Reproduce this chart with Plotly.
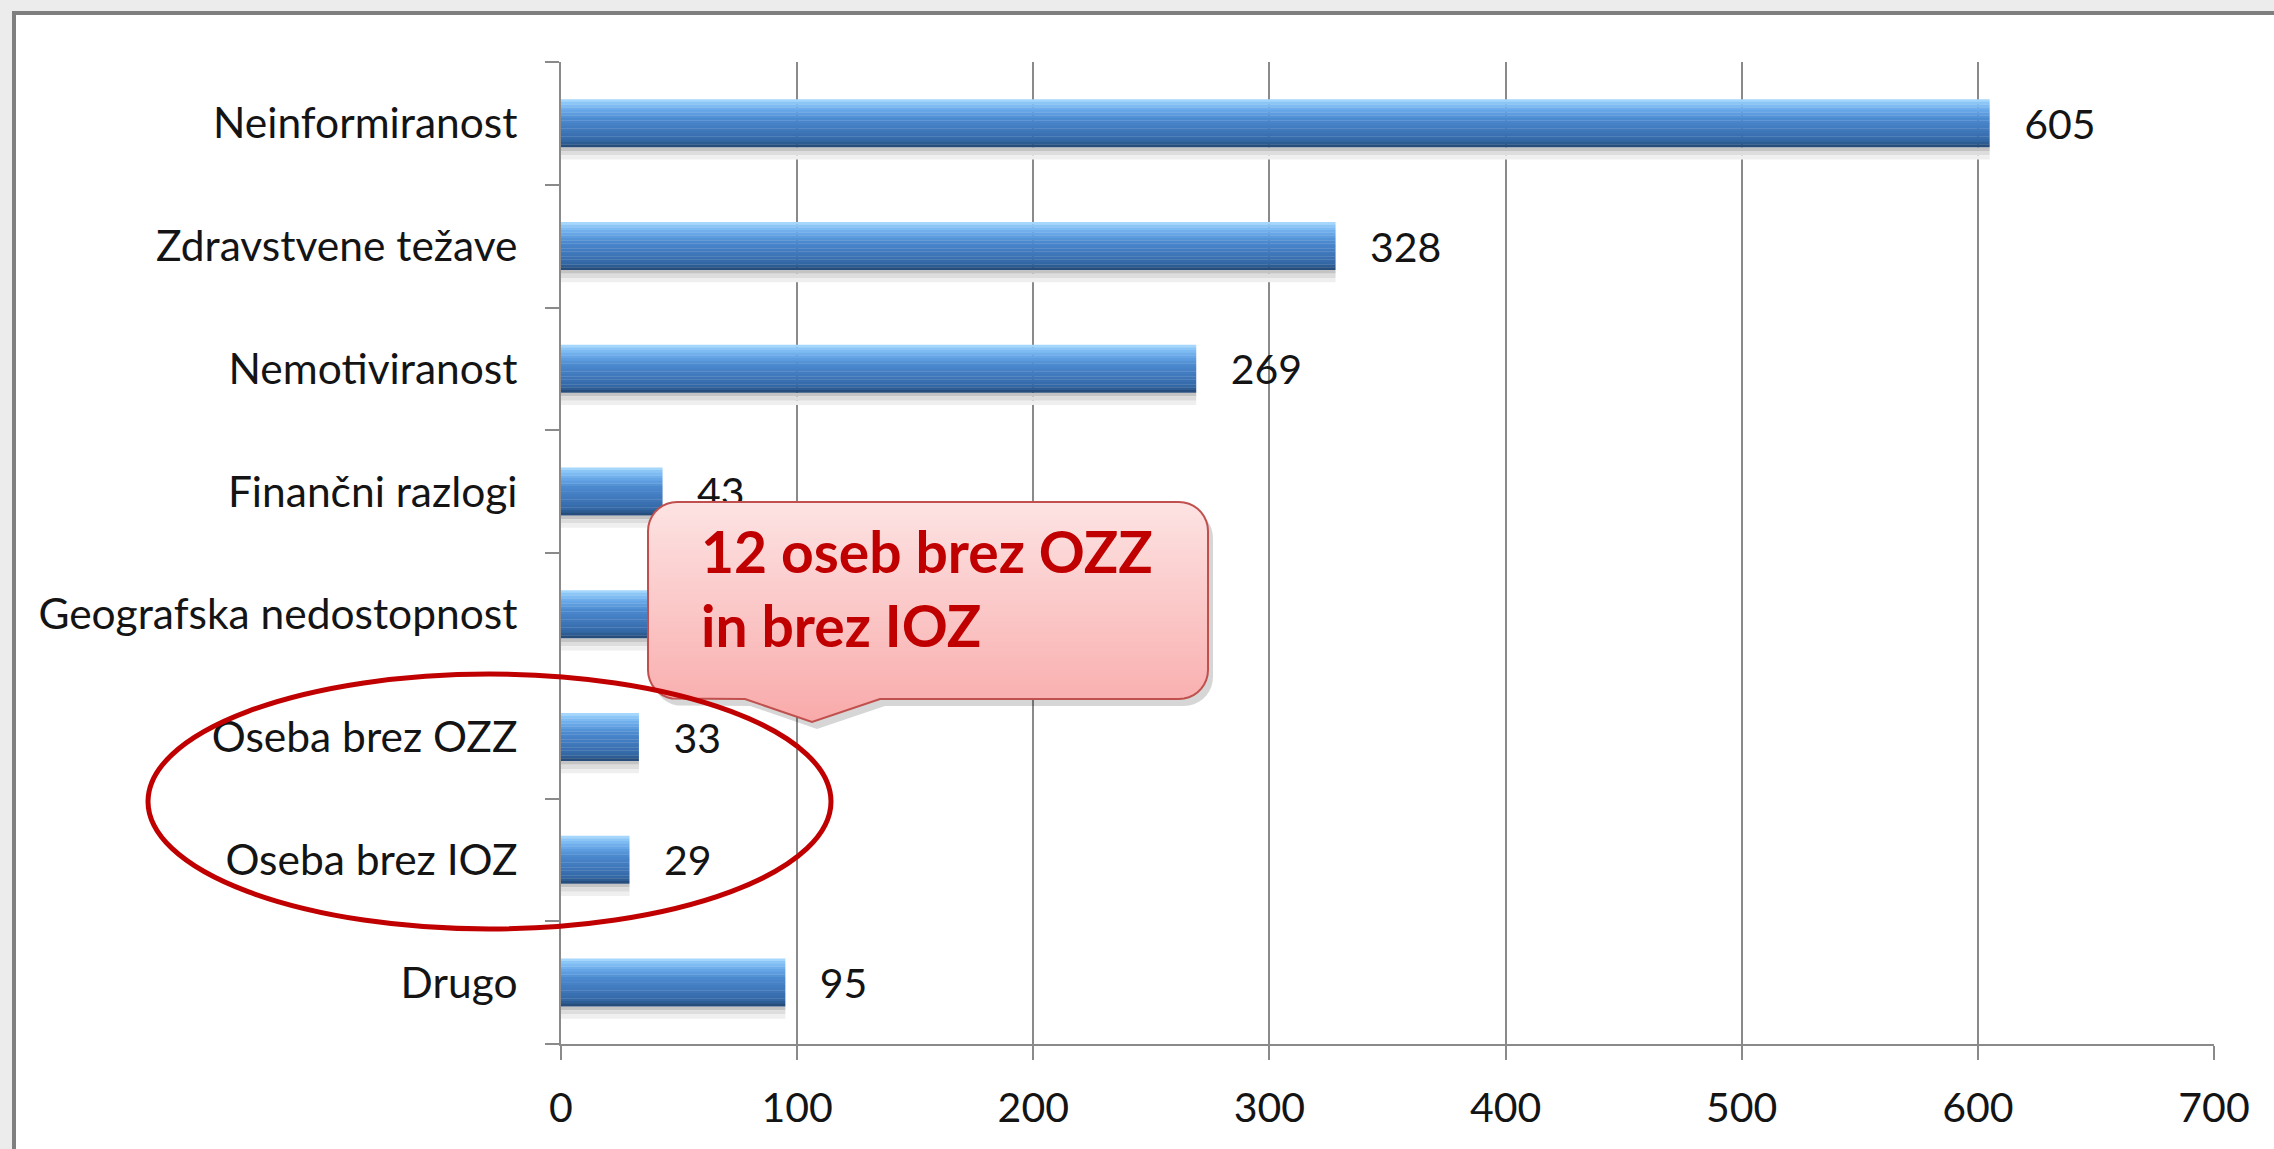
import numpy as np
import plotly.graph_objects as go

# ---------------- data ----------------
categories = ["Drugo", "Oseba brez IOZ", "Oseba brez OZZ", "Geografska nedostopnost",
              "Finančni razlogi", "Nemotiviranost", "Zdravstvene težave", "Neinformiranost"]
values = [95, 29, 33, 40, 43, 269, 328, 605]
# label of "Geografska nedostopnost" is hidden behind the callout in the reference
value_labels = ["95", "29", "33", "", "43", "269", "328", "605"]
x_ticks = [0, 100, 200, 300, 400, 500, 600, 700]
callout_lines = ["12 oseb brez OZZ", "in brez IOZ"]

# ---------------- layout geometry ----------------
W, H = 2274, 1149
ML, MR, MT, MB = 561, 60, 62, 105
PW, PH = W - ML - MR, H - MT - MB

FONT = "Lato, Carlito, Calibri, sans-serif"
TXT = "#141414"
GRID = "#8a8a8a"


def px_to_paper(px, py):
    return (px - ML) / PW, (H - MB - py) / PH


def lerp_color(stops, t):
    for (t0, c0), (t1, c1) in zip(stops[:-1], stops[1:]):
        if t0 <= t <= t1:
            f = 0 if t1 == t0 else (t - t0) / (t1 - t0)
            a = [int(c0[i:i + 2], 16) for i in (1, 3, 5)]
            b = [int(c1[i:i + 2], 16) for i in (1, 3, 5)]
            return "rgb(%d,%d,%d)" % tuple(round(a[k] + (b[k] - a[k]) * f) for k in range(3))
    return stops[-1][1]


fig = go.Figure()

# shadow under bars
bar_w = 0.39
for (off, wd, col) in [(0.00, 0.03, "#c4c4c4"), (0.03, 0.035, "#dddddd"), (0.065, 0.035, "#efefef")]:
    fig.add_trace(go.Bar(x=values, y=categories, orientation="h",
                         offset=-bar_w / 2 - off - wd, width=wd,
                         marker=dict(color=col, line=dict(width=0)),
                         hoverinfo="skip", showlegend=False))

# bar body as stacked gradient stripes (top -> bottom)
stops = [(0.0, "#b4defd"), (0.07, "#8fc9f8"), (0.22, "#6aaaea"), (0.42, "#4c89cf"),
         (0.68, "#3e76b9"), (0.88, "#3266a3"), (1.0, "#22466f")]
n = 18
for i in range(n):
    t = (i + 0.5) / n
    fig.add_trace(go.Bar(x=values, y=categories, orientation="h",
                         offset=bar_w / 2 - (i + 1) * bar_w / n, width=bar_w / n * 1.1,
                         marker=dict(color=lerp_color(stops, t), line=dict(width=0)),
                         hoverinfo="skip", showlegend=False))

# value labels (transparent full-size bar carrying the outside text)
fig.add_trace(go.Bar(x=values, y=categories, orientation="h",
                     offset=-bar_w / 2, width=bar_w,
                     marker=dict(color="rgba(0,0,0,0)", line=dict(width=0)),
                     text=[("\u00a0\u00a0\u00a0" + s) if s else "" for s in value_labels],
                     textposition="outside", constraintext="none", cliponaxis=False,
                     textfont=dict(family=FONT, size=41, color=TXT),
                     hoverinfo="skip", showlegend=False))

# ---------------- callout (overlay axes in paper units) ----------------
bx0, by1 = px_to_paper(648, 502)
bx1, by0 = px_to_paper(1208, 699)
rx, ry = 29 / PW, 29 / PH
tb0, _ = px_to_paper(745, 0)
tb1, _ = px_to_paper(880, 0)
tipx, tipy = px_to_paper(812, 722)


def arc(cx, cy, a0, a1, k=10):
    a = np.radians(np.linspace(a0, a1, k))
    return list(cx + rx * np.cos(a)), list(cy + ry * np.sin(a))


def callout_poly(dx=0.0, dy=0.0):
    xs, ys = [], []
    for (cx, cy, a0, a1) in [(bx1 - rx, by1 - ry, 90, 0), (bx1 - rx, by0 + ry, 0, -90)]:
        ax, ay = arc(cx, cy, a0, a1)
        xs += ax; ys += ay
    xs += [tb1, tipx, tb0]; ys += [by0, tipy, by0]
    for (cx, cy, a0, a1) in [(bx0 + rx, by0 + ry, -90, -180), (bx0 + rx, by1 - ry, 180, 90)]:
        ax, ay = arc(cx, cy, a0, a1)
        xs += ax; ys += ay
    xs.append(xs[0]); ys.append(ys[0])
    return [x + dx for x in xs], [y + dy for y in ys]


sx, sy = callout_poly(5 / PW, -7 / PH)
fig.add_trace(go.Scatter(x=sx, y=sy, xaxis="x2", yaxis="y2", mode="lines", fill="toself",
                         fillcolor="rgba(0,0,0,0.16)", line=dict(width=0),
                         hoverinfo="skip", showlegend=False))
cx_, cy_ = callout_poly()
fig.add_trace(go.Scatter(x=cx_, y=cy_, xaxis="x2", yaxis="y2", mode="lines", fill="toself",
                         fillgradient=dict(type="vertical",
                                           colorscale=[[0, "#f9aaaa"], [1, "#fde3e3"]]),
                         line=dict(width=2, color="#c0504d"),
                         hoverinfo="skip", showlegend=False))

tx, ty = px_to_paper(699, 588)
fig.add_annotation(x=tx, y=ty, xref="paper", yref="paper", xanchor="left", yanchor="middle",
                   align="left", showarrow=False,
                   text="<br>".join(callout_lines),
                   font=dict(family=FONT, size=57, color="#c00000", weight="bold"))

# ellipse
ex0, ey1 = px_to_paper(148, 674)
ex1, ey0 = px_to_paper(831, 929)
fig.add_shape(type="circle", xref="paper", yref="paper", x0=ex0, x1=ex1, y0=ey0, y1=ey1,
              line=dict(color="#c00000", width=5), layer="above")

# frame
fx0, fy1 = px_to_paper(14, 13)
fig.add_shape(type="rect", xref="paper", yref="paper", x0=fx0, x1=1.2, y0=-0.3, y1=fy1,
              fillcolor="white", line=dict(color="#7f7f7f", width=4), layer="below")

fig.update_layout(
    width=W, height=H,
    margin=dict(l=ML, r=MR, t=MT, b=MB, pad=0),
    paper_bgcolor="#ececec", plot_bgcolor="white",
    barmode="overlay", showlegend=False,
    font=dict(family=FONT, size=41, color=TXT),
    xaxis=dict(range=[0, 700], tickvals=x_ticks, ticktext=[str(v) for v in x_ticks],
               showgrid=True, gridcolor=GRID, gridwidth=2,
               showline=True, linecolor=GRID, linewidth=2,
               ticks="outside", ticklen=14, tickwidth=2, tickcolor=GRID,
               zeroline=False, ticklabelstandoff=13,
               tickfont=dict(family=FONT, size=41, color=TXT)),
    yaxis=dict(type="category", categoryorder="array", categoryarray=categories,
               range=[-0.5, 7.5], showgrid=False,
               showline=True, linecolor=GRID, linewidth=2,
               ticks="outside", tickson="boundaries", ticklen=14, tickwidth=2, tickcolor=GRID,
               ticklabelstandoff=33,
               tickfont=dict(family=FONT, size=42.5, color=TXT)),
    xaxis2=dict(overlaying="x", range=[0, 1], visible=False, fixedrange=True),
    yaxis2=dict(overlaying="y", range=[0, 1], visible=False, fixedrange=True),
)

fig.write_html("out.html", config={"displayModeBar": False},
               post_script="document.body.style.margin='0px';document.body.style.overflow='hidden';")
